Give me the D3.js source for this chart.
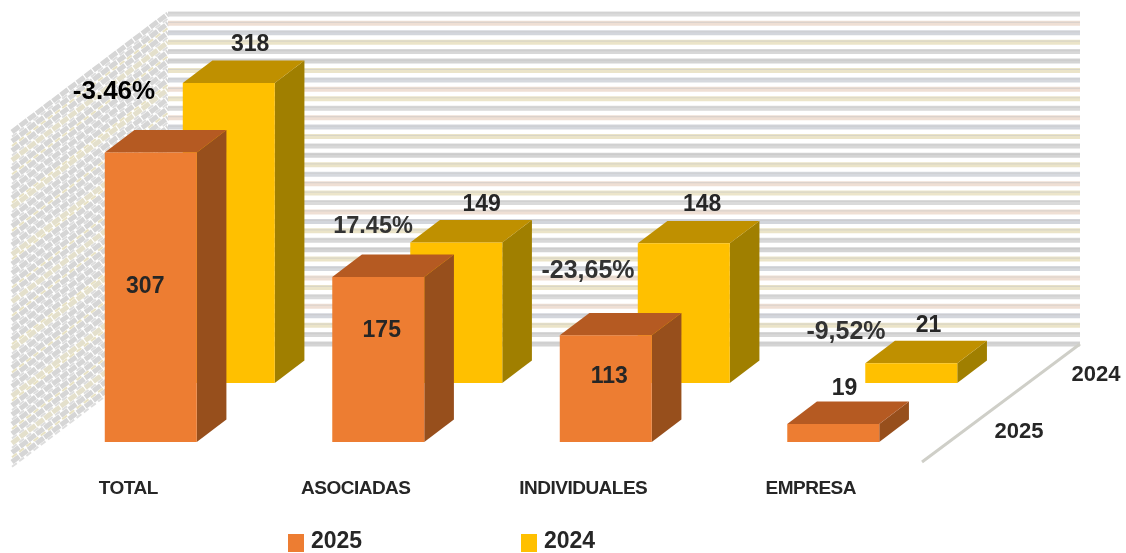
<!DOCTYPE html>
<html><head><meta charset="utf-8">
<script src="https://cdn.jsdelivr.net/npm/d3@7/dist/d3.min.js"></script>
<style>html,body{margin:0;padding:0;background:#fff;overflow:hidden}svg{display:block}</style>
</head><body><svg id="c" width="1126" height="553"></svg>
<script>
const categories = ["TOTAL","ASOCIADAS","INDIVIDUALES","EMPRESA"];
const seriesNames = ["2025","2024"];
const values2025 = [307,175,113,19];
const values2024 = [318,149,148,21];
const changes = ["-3.46%","17.45%","-23,65%","-9,52%"];
const gridTicks = d3.range(0,351,10);

// layout
const W=1126,H=553;
const frontY=462, backY=344, leftX=12, depthDX=156, depthDY=118;
const colors = {
  "2025":{front:"#ED7D31",top:"#B55A22",side:"#974F1E"},
  "2024":{front:"#FFC000",top:"#BF9000",side:"#A07F00"}
};
const gridColors=["#d4d4d4","#d8d8d8","#ebe4c8","#d3d6dc","#efdfd4","#dadada","#ece5ca","#efdfd4","#d6d9de","#ebe4c8"];
const valueNudge={ "2025":[[-5.5,-12],[3.5,-31],[3.5,-14],[-3.5,-15]], "2024":[[6.5,-18],[10.5,-17],[3.5,-18],[2.5,-17]] };
const changePos=[[114,99],[373,233],[588,278],[846,339]];

const svg=d3.select("#c");
const defs=svg.append("defs");
defs.append("filter").attr("id","soft").attr("x","-2%").attr("y","-2%").attr("width","104%").attr("height","104%")
  .append("feGaussianBlur").attr("stdDeviation",0.6);
const g=svg.append("g").attr("filter","url(#soft)");

const x=d3.scaleBand().domain(categories).range([leftX-1.5,920.5]).paddingInner(0.5956).paddingOuter(0.2978);
const y=d3.scaleLinear().domain([0,352]).range([0,332]);
const depth=d3.scaleBand().domain(seriesNames).range([0.015,1.015]).paddingInner(0.62).paddingOuter(0.31);

const px=(fx,d)=>fx+d*depthDX;
const py=(d,h)=>frontY-d*depthDY-h;
const line=d3.line();

// walls
const wallBack=px(leftX,1);
const grid=g.append("g");
grid.selectAll("line.side").data(gridTicks).join("line").attr("class","side")
  .attr("x1",leftX).attr("x2",wallBack)
  .attr("y1",d=>py(0,y(d))).attr("y2",d=>py(1,y(d)))
  .attr("stroke",(d,i)=>i%5==2?"#e4e0cc":"#d6d6d6").attr("stroke-width",5).attr("stroke-dasharray","9 1.2");
grid.selectAll("line.sidec").data(gridTicks).join("line").attr("class","sidec")
  .attr("x1",leftX).attr("x2",wallBack)
  .attr("y1",d=>py(0,y(d))+4.7).attr("y2",d=>py(1,y(d))+4.7)
  .attr("stroke",(d,i)=>i%3==1?"#e8e2c4":"#dedede").attr("stroke-width",2).attr("stroke-dasharray","6 3");
grid.selectAll("line.backb").data(gridTicks).join("line").attr("class","backb")
  .attr("x1",wallBack).attr("x2",1080)
  .attr("y1",d=>py(1,y(d))).attr("y2",d=>py(1,y(d)))
  .attr("stroke",(d,i)=>gridColors[i%gridColors.length]).attr("stroke-width",5);
grid.selectAll("line.backc").data(gridTicks).join("line").attr("class","backc")
  .attr("x1",wallBack).attr("x2",1080)
  .attr("y1",d=>py(1,y(d))-1).attr("y2",d=>py(1,y(d))-1)
  .attr("stroke","#c4c4c4").attr("stroke-opacity",0.45).attr("stroke-width",1.2);
// floor right edge
g.append("path").attr("d",line([[922,frontY],[1080,backY]])).attr("stroke","#cfcfc8").attr("stroke-width",3).attr("fill","none");

// bars: back series first
const bars=[["2024",values2024],["2025",values2025]];
bars.forEach(([name,vals])=>{
  const d0=depth(name), d1=d0+depth.bandwidth(), c=colors[name], w=x.bandwidth();
  const r=g.append("g");
  categories.forEach((cat,i)=>{
    const h=y(vals[i]), l=x(cat);
    const A=[px(l,d0),py(d0,h)], B=[px(l+w,d0),py(d0,h)], C=[px(l+w,d0),py(d0,0)];
    const D=[px(l,d0),py(d0,0)], E=[px(l+w,d1),py(d1,h)], F=[px(l,d1),py(d1,h)], G=[px(l+w,d1),py(d1,0)];
    r.append("path").attr("d",line([B,E,G,C])+"Z").attr("fill",c.side);
    r.append("path").attr("d",line([A,B,E,F])+"Z").attr("fill",c.top);
    r.append("path").attr("d",line([A,B,C,D])+"Z").attr("fill",c.front);
  });
});

const font="'Liberation Sans',Arial,sans-serif";
// value labels
bars.forEach(([name,vals])=>{
  const d0=depth(name), d1=d0+depth.bandwidth(), w=x.bandwidth();
  categories.forEach((cat,i)=>{
    const h=y(vals[i]), n=valueNudge[name][i];
    const inside=name==="2025" && vals[i]>50;
    const cx=inside?px(x(cat)+w/2,d0):px(x(cat)+w/2,(d0+d1)/2);
    const cy=inside?py(d0,h/2):py(d1,h);
    g.append("text").attr("x",cx+n[0]).attr("y",cy+n[1]).attr("dy","0.36em")
      .attr("text-anchor","middle").attr("font-family",font).attr("font-weight",700).attr("font-size",23)
      .attr("fill","#262626").text(vals[i]);
  });
});
// change labels
changes.forEach((t,i)=>{
  g.append("text").attr("x",changePos[i][0]).attr("y",changePos[i][1]).attr("text-anchor","middle")
   .attr("font-family",font).attr("font-weight",700).attr("font-size",i==0?26:i==1?23.5:25)
   .attr("fill",i==0?"#000":"#333").text(t);
});

// category axis
const ax=g.append("g").attr("transform","translate(4,477)").call(d3.axisBottom(x).tickSize(0));
ax.select(".domain").remove();
ax.selectAll("text").attr("font-family",font).attr("font-weight",700).attr("font-size",19).attr("fill","#262626")
  .attr("dy","0.75em").attr("letter-spacing","-0.5px");

// depth labels
[["2025",1019,438],["2024",1096,381]].forEach(([t,a,b])=>{
  g.append("text").attr("x",a).attr("y",b).attr("text-anchor","middle").attr("font-family",font)
   .attr("font-weight",700).attr("font-size",22).attr("fill","#262626").text(t);
});

// legend
[["2025",288,311],["2024",521,544]].forEach(([t,sx,tx])=>{
  g.append("rect").attr("x",sx).attr("y",534).attr("width",16).attr("height",18).attr("fill",colors[t].front);
  g.append("text").attr("x",tx).attr("y",548).attr("font-family",font).attr("font-weight",700)
   .attr("font-size",23).attr("fill","#262626").text(t);
});
</script></body></html>
